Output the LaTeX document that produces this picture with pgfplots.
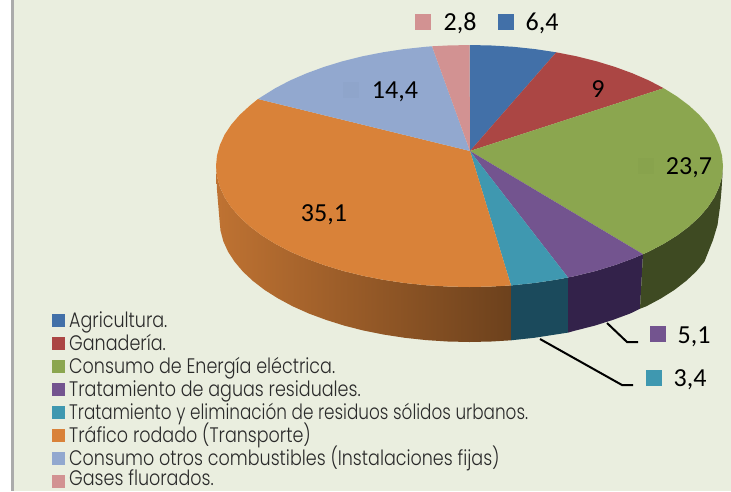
\documentclass[border=0pt]{standalone}
\usepackage{pgfplots}
\pgfplotsset{compat=1.18}
\usepackage{fontspec}
\setmainfont{Carlito}
\newfontfamily\legfont{Poppins Light}[FakeStretch=0.835]
\definecolor{bg}{HTML}{EAEEDF}
\definecolor{cblue}{HTML}{4270A8}
\definecolor{cred}{HTML}{AB4644}
\definecolor{cgreen}{HTML}{8BA64F}
\definecolor{cpurple}{HTML}{73548F}
\definecolor{cteal}{HTML}{3F98B0}
\definecolor{corange}{HTML}{D98239}
\definecolor{clblue}{HTML}{92A8CF}
\definecolor{cpink}{HTML}{D29292}
\definecolor{wgreen}{HTML}{3E4A22}
\definecolor{wpurple}{HTML}{33224A}
\definecolor{wteal}{HTML}{1B4A5C}
\definecolor{txt}{HTML}{2A2A2A}
\colorlet{faintlb}{clblue!98!black}
\colorlet{faintgr}{cgreen!98!black}
\newcommand{\lbl}[3]{\node[font=\fontsize{26}{28}\selectfont,text=black,anchor=center,inner sep=0pt] at (axis cs:#1,#2) {#3};}
\newcommand{\leg}[2]{\node[font=\fontsize{21}{23}\legfont,text=txt,anchor=base west,inner sep=0pt] at (axis cs:69,#1) {#2};}
\newcommand{\keymark}[4]{\addplot[only marks,mark=square*,mark size=#1pt,mark options={draw=#2,fill=#2,line width=0pt}] coordinates {(#3,#4)};}
\begin{document}
\begin{tikzpicture}
\begin{axis}[at={(0,0)},anchor=south west,scale only axis,width=731pt,height=491pt,
  xmin=0,xmax=731,ymin=0,ymax=491,y dir=reverse,hide axis]
% background
\addplot[draw=none,fill=bg] coordinates {(0,0)(731,0)(731,491)(0,491)} --cycle;
\addplot[draw=none,fill=white] coordinates {(0,0)(11,0)(11,491)(0,491)} --cycle;
\addplot[draw=none,fill=black!33] coordinates {(11,0)(13.5,0)(13.5,491)(11,491)} --cycle;
% walls
\addplot[draw=none,left color=corange!88!black,middle color=corange!72!black,right color=corange!50!black] coordinates {
(216,166)(217,176.5)(219.9,187)(224.6,197.3)(231.3,207.4)(239.7,217.1)(250,226.5)(261.8,235.4)(275.3,243.8)(290.2,251.6)(306.6,258.7)(324.1,265.1)(342.7,270.8)(362.4,275.7)(382.8,279.7)(403.9,282.9)(425.5,285.2)(447.4,286.5)(469.5,287)(491.6,286.5)(511,285.4)
(511,340.3)(491.3,341.5)(469.5,342)(447.7,341.5)(426.1,340.1)(404.8,337.8)(384,334.6)(363.8,330.6)(344.5,325.7)(326.1,319.9)(308.8,313.5)(292.7,306.3)(278,298.4)(264.7,290)(253,281)(242.9,271.6)(234.6,261.7)(228,251.6)(223.3,241.2)(220.5,230.6)(219.5,220)(217,190)
} --cycle;
\addplot[draw=none,fill=wteal] coordinates {
(511,285.4)(513.5,285.2)(535.1,282.9)(556.2,279.7)(568,277.5)(568,332.6)(555,334.6)(534.2,337.8)(512.9,340.1)(511,340.3)
} --cycle;
\addplot[draw=none,fill=wpurple] coordinates {
(568,277.5)(576.6,275.7)(596.3,270.8)(614.9,265.1)(632.4,258.7)(643,254.2)(640,308.7)(630.2,313.5)(612.9,319.9)(594.5,325.7)(575.2,330.6)(568,332.6)
} --cycle;
\addplot[draw=none,fill=wgreen] coordinates {
(643,254.2)(648.8,251.6)(663.7,243.8)(677.2,235.4)(689,226.5)(699.3,217.1)(707.7,207.4)(714.4,197.3)(719.1,187)(722,176.5)(723,166)(721.5,190)(720,207)(717.5,225)(713,240)(704.4,261.7)(696.1,271.6)(686,281)(674.3,290)(661,298.4)(646.3,306.3)(640,308.7)
} --cycle;
% top
\addplot[draw=none,fill=cblue] coordinates {
(470,151)(469.5,45)(491.6,45.5)(513.5,46.8)(535.1,49.1)(556.2,52.3)
} --cycle;
\addplot[draw=none,fill=cred] coordinates {
(470,151)(556.2,52.3)(576.6,56.3)(596.3,61.2)(614.9,66.9)(632.4,73.3)(648.8,80.4)(663.7,88.2)
} --cycle;
\addplot[draw=none,fill=cgreen] coordinates {
(470,151)(663.7,88.2)(677.2,96.6)(689,105.5)(699.3,114.9)(707.7,124.6)(714.4,134.7)(719.1,145)(722,155.5)(723,166)(722,176.5)(719.1,187)(714.4,197.3)(707.7,207.4)(699.3,217.1)(689,226.5)(677.2,235.4)(663.7,243.8)(648.8,251.6)(643,254.2)
} --cycle;
\addplot[draw=none,fill=cpurple] coordinates {
(470,151)(643,254.2)(632.4,258.7)(614.9,265.1)(596.3,270.8)(576.6,275.7)(568,277.5)
} --cycle;
\addplot[draw=none,fill=cteal] coordinates {
(470,151)(568,277.5)(556.2,279.7)(535.1,282.9)(513.5,285.2)(511,285.4)
} --cycle;
\addplot[draw=none,fill=corange] coordinates {
(470,151)(511,285.4)(491.6,286.5)(469.5,287)(447.4,286.5)(425.5,285.2)(403.9,282.9)(382.8,279.7)(362.4,275.7)(342.7,270.8)(324.1,265.1)(306.6,258.7)(290.2,251.6)(275.3,243.8)(261.8,235.4)(250,226.5)(239.7,217.1)(231.3,207.4)(224.6,197.3)(219.9,187)(217,176.5)(216,166)(217,155.5)(219.9,145)(224.6,134.7)(231.3,124.6)(239.7,114.9)(250,105.5)(258,99)
} --cycle;
\addplot[draw=none,fill=clblue] coordinates {
(470,151)(258,99)(261.8,96.6)(275.3,88.2)(290.2,80.4)(306.6,73.3)(324.1,66.9)(342.7,61.2)(362.4,56.3)(382.8,52.3)(403.9,49.1)(425.5,46.8)(432,46.3)
} --cycle;
\addplot[draw=none,fill=cpink] coordinates {
(470,151)(432,46.3)(447.4,45.5)(469.5,45)
} --cycle;
% leader lines
\addplot[black,line width=2pt] coordinates {(607,323)(627,342)(638,342)};
\addplot[black,line width=2pt] coordinates {(540,339)(622,385)(633,385)};
% data-label keys
\keymark{7.5}{cpink}{422.5}{21.5}
\keymark{7.5}{cblue}{505.5}{21.5}
\keymark{7.5}{cpurple}{657.5}{333.5}
\keymark{7.5}{cteal}{653.5}{377.5}
\keymark{7.5}{faintlb}{350.5}{89.5}
\keymark{7.5}{faintgr}{645.5}{165.5}
% legend keys
\keymark{6}{cblue}{58}{320.5}
\keymark{6}{cred}{58}{343}
\keymark{6}{cgreen}{58}{366}
\keymark{6}{cpurple}{58}{389}
\keymark{6}{cteal}{58}{412}
\keymark{6}{corange}{58}{435.5}
\keymark{6}{clblue}{58}{458}
\keymark{6}{cpink}{58}{481.5}
% value labels
\lbl{460}{23.5}{2,8}
\lbl{542}{23.5}{6,4}
\lbl{395}{92}{14,4}
\lbl{598}{89}{9}
\lbl{689}{168}{23,7}
\lbl{324}{214.5}{35,1}
\lbl{694}{337}{5,1}
\lbl{690}{380}{3,4}
% legend text
\leg{327}{Agricultura.}
\leg{350}{Ganadería.}
\leg{373}{Consumo de Energía eléctrica.}
\leg{396}{Tratamiento de aguas residuales.}
\leg{419}{\scalebox{0.96}[1]{Tratamiento y eliminación de residuos sólidos urbanos.}}
\leg{442}{Tráfico rodado (Transporte)}
\leg{465}{Consumo otros combustibles (Instalaciones fijas)}
\leg{485.5}{Gases fluorados.}
\end{axis}
\end{tikzpicture}
\end{document}
